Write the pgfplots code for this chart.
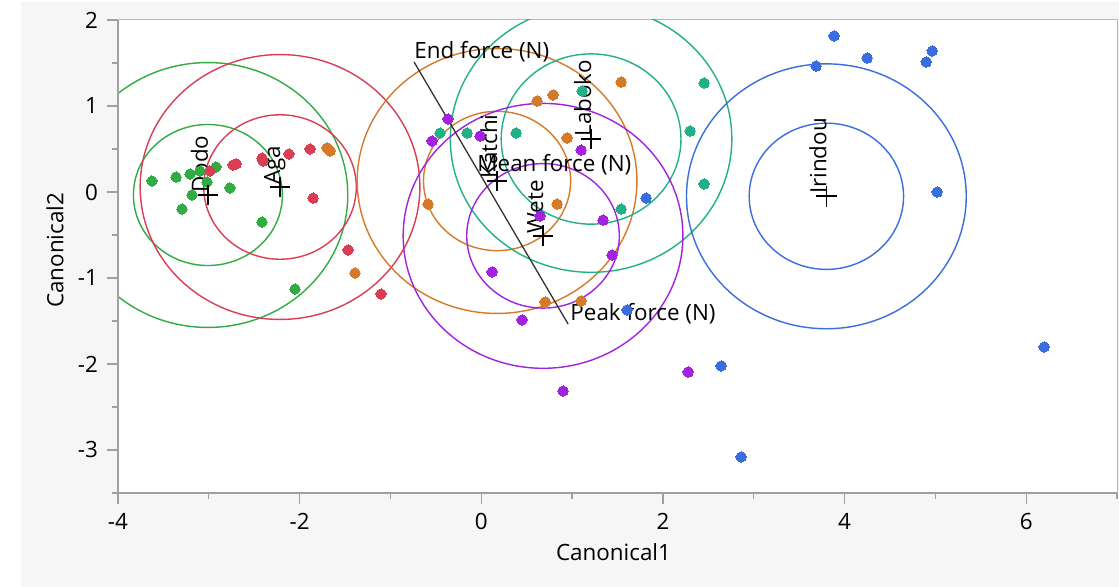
\documentclass[border=0pt]{standalone}
\usepackage{fontspec}
\setmainfont{Open Sans}
\usepackage{pgfplots}
\usepackage{pgfplotstable}
\pgfplotsset{compat=1.18}

\definecolor{cgreen}{RGB}{48,172,66}
\definecolor{cred}{RGB}{218,62,84}
\definecolor{corange}{RGB}{212,122,40}
\definecolor{cteal}{RGB}{34,176,136}
\definecolor{cpurple}{RGB}{162,34,222}
\definecolor{cblue}{RGB}{58,110,222}
\definecolor{bggray}{RGB}{246,246,246}
\definecolor{axgray}{RGB}{160,160,160}
\definecolor{boxgray}{RGB}{185,185,185}

\pgfplotstableread{
x y
-3.626 0.128
-3.361 0.174
-3.207 0.209
-3.097 0.244
-2.921 0.291
-3.020 0.116
-3.185 -0.035
-3.295 -0.198
-2.767 0.047
-2.414 -0.349
-2.051 -1.128
}\dodo
\pgfplotstableread{
x y
-2.987 0.244
-2.733 0.314
-2.700 0.326
-2.414 0.395
-2.403 0.360
-2.117 0.442
-1.885 0.500
-1.852 -0.070
-1.467 -0.674
-1.104 -1.186
}\aga
\pgfplotstableread{
x y
0.615 1.058
0.791 1.128
1.540 1.279
0.945 0.628
-0.586 -0.140
0.835 -0.140
0.703 -1.279
1.099 -1.267
-1.698 0.512
-1.665 0.477
-1.390 -0.942
}\katchi
\pgfplotstableread{
x y
-0.454 0.686
-0.156 0.686
0.383 0.686
2.454 1.267
2.300 0.709
2.454 0.093
1.540 -0.198
1.110 1.174
}\laboko
\pgfplotstableread{
x y
-0.366 0.849
-0.542 0.593
-0.013 0.651
1.099 0.488
0.648 -0.279
1.341 -0.326
1.441 -0.733
0.119 -0.930
0.449 -1.488
0.901 -2.314
2.278 -2.093
}\wete
\pgfplotstableread{
x y
3.885 1.814
4.249 1.558
3.687 1.465
4.965 1.640
4.899 1.512
5.020 0.000
6.198 -1.802
1.815 -0.070
1.606 -1.372
2.641 -2.023
2.861 -3.081
}\irindou
\pgfplotstableread{
x y
-3.010 -0.035
-2.216 0.058
0.174 0.128
1.209 0.616
0.680 -0.510
3.800 -0.050
}\centers

\newcommand{\lfont}{\fontsize{11.2}{13}\selectfont}

\begin{document}
\begin{tikzpicture}
\fill[white] (-59pt,-47pt) rectangle (500.5pt,246.5pt);
\fill[bggray] (-48.5pt,-47pt) rectangle (500.5pt,245.5pt);
\begin{axis}[
  at={(0,0)}, anchor=south west,
  scale only axis, width=499.5pt, height=236.5pt,
  xmin=-4, xmax=7, ymin=-3.5, ymax=2,
  axis background/.style={fill=white},
  axis line style={draw=boxgray, line width=0.5pt},
  xtick={-4,-2,0,2,4,6},
  ytick={-3,-2,-1,0,1,2},
  minor xtick={-3,-1,1,3,5,7},
  minor ytick={-3.5,-2.5,-1.5,-0.5,0.5,1.5},
  xtick pos=bottom, ytick pos=left,
  tick align=outside,
  major tick length=5.5pt, minor tick length=3pt,
  every tick/.style={draw=axgray, line width=0.6pt},
  /pgf/number format/assume math mode=true,
  tick label style={font=\lfont, text=black},
  xticklabel style={yshift=-1pt},
  yticklabel style={xshift=-1pt},
  xlabel={Canonical1}, ylabel={Canonical2},
  label style={font=\lfont},
  xlabel style={at={(axis description cs:0.496,-0.1247)}, anchor=center},
  ylabel style={at={(axis description cs:-0.063,0.513)}, anchor=center},
  clip=true,
]
% circles: inner and outer
\draw[cgreen, line width=0.7pt] (axis cs:-3.010,-0.035) ellipse [x radius=0.82, y radius=0.82];
\draw[cgreen, line width=0.7pt] (axis cs:-3.010,-0.035) ellipse [x radius=1.54, y radius=1.54];
\draw[cred, line width=0.7pt] (axis cs:-2.216,0.058) ellipse [x radius=0.84, y radius=0.84];
\draw[cred, line width=0.7pt] (axis cs:-2.216,0.058) ellipse [x radius=1.54, y radius=1.54];
\draw[corange, line width=0.7pt] (axis cs:0.174,0.128) ellipse [x radius=0.81, y radius=0.81];
\draw[corange, line width=0.7pt] (axis cs:0.174,0.128) ellipse [x radius=1.54, y radius=1.54];
\draw[cteal, line width=0.7pt] (axis cs:1.209,0.616) ellipse [x radius=0.99, y radius=0.99];
\draw[cteal, line width=0.7pt] (axis cs:1.209,0.616) ellipse [x radius=1.55, y radius=1.55];
\draw[cpurple, line width=0.7pt] (axis cs:0.680,-0.510) ellipse [x radius=0.84, y radius=0.84];
\draw[cpurple, line width=0.7pt] (axis cs:0.680,-0.510) ellipse [x radius=1.54, y radius=1.54];
\draw[cblue, line width=0.7pt] (axis cs:3.800,-0.050) ellipse [x radius=0.85, y radius=0.85];
\draw[cblue, line width=0.7pt] (axis cs:3.800,-0.050) ellipse [x radius=1.54, y radius=1.54];
% points
\addplot[only marks, mark=*, mark size=2.6pt, color=cgreen, mark options={line width=0pt}] table {\dodo};
\addplot[only marks, mark=*, mark size=2.6pt, color=cred, mark options={line width=0pt}] table {\aga};
\addplot[only marks, mark=*, mark size=2.6pt, color=corange, mark options={line width=0pt}] table {\katchi};
\addplot[only marks, mark=*, mark size=2.6pt, color=cteal, mark options={line width=0pt}] table {\laboko};
\addplot[only marks, mark=*, mark size=2.6pt, color=cpurple, mark options={line width=0pt}] table {\wete};
\addplot[only marks, mark=*, mark size=2.6pt, color=cblue, mark options={line width=0pt}] table {\irindou};
% biplot ray
\addplot[black!80, line width=0.65pt, mark=none] coordinates {(-0.740,1.512) (0.956,-1.535)};
% group means
\addplot[only marks, mark=+, mark size=5.2pt, black, line width=0.8pt] table {\centers};
% labels
\node[rotate=90, anchor=base west, inner xsep=1pt, inner ysep=0pt, font=\lfont] at (axis cs:-3.010,-0.035) {Dodo};
\node[rotate=90, anchor=base west, inner xsep=1pt, inner ysep=0pt, font=\lfont] at (axis cs:-2.216,0.058) {Aga};
\node[rotate=90, anchor=base west, inner xsep=1pt, inner ysep=0pt, font=\lfont] at (axis cs:0.174,0.128) {Katchi};
\node[rotate=90, anchor=base west, inner xsep=1pt, inner ysep=0pt, font=\lfont] at (axis cs:1.209,0.616) {Laboko};
\node[rotate=90, anchor=base west, inner xsep=1pt, inner ysep=0pt, font=\lfont] at (axis cs:0.680,-0.510) {Wete};
\node[rotate=90, anchor=base west, inner xsep=1pt, inner ysep=0pt, font=\lfont] at (axis cs:3.800,-0.050) {Irindou};
\node[anchor=base west, inner sep=0pt, font=\lfont] at (axis cs:-0.740,1.550) {End force (N)};
\node[anchor=base west, inner sep=0pt, font=\lfont] at (axis cs:-0.046,0.244) {Mean force (N)};
\node[anchor=base west, inner sep=0pt, font=\lfont] at (axis cs:0.978,-1.500) {Peak force (N)};
\end{axis}
\draw[axgray, line width=1pt] (current axis.north west) -- (current axis.south west) -- (current axis.south east);
\pgfresetboundingbox
\useasboundingbox (-59pt,-47pt) rectangle (500.5pt,246.5pt);
\end{tikzpicture}
\end{document}
